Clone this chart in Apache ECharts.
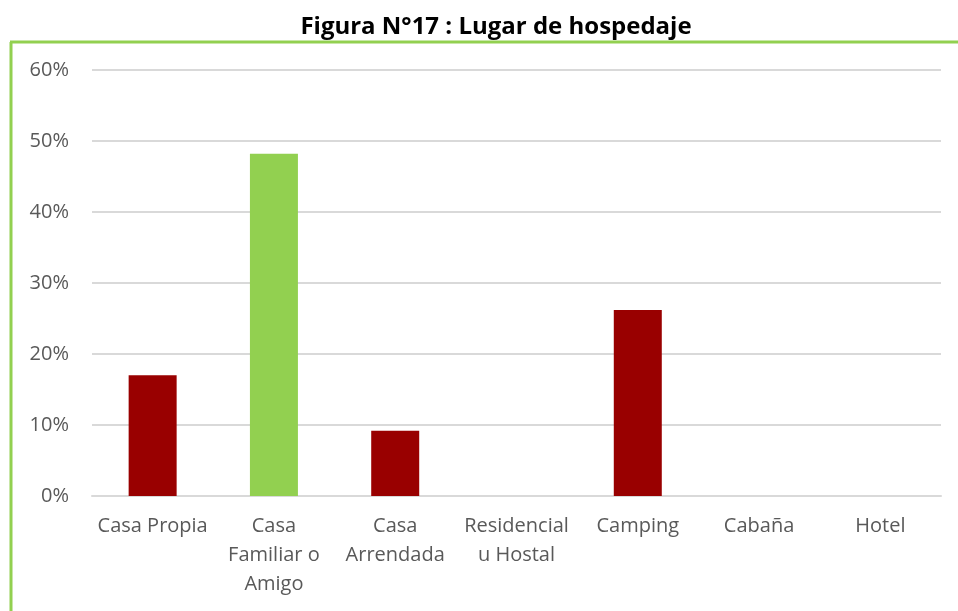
<!DOCTYPE html>
<html>
<head>
<meta charset="utf-8">
<script src="https://cdn.jsdelivr.net/npm/echarts@6/dist/echarts.min.js"></script>
<style>
  html, body { margin: 0; padding: 0; background: #fff; }
  #chart { width: 958px; height: 611px; }
</style>
</head>
<body>
<div id="chart"></div>
<script>
// datos
var categorias = ['Casa Propia', 'Casa\nFamiliar o\nAmigo', 'Casa\nArrendada', 'Residencial\nu Hostal', 'Camping', 'Cabaña', 'Hotel'];
var porcentajes = [17.0, 48.2, 9.2, 0, 26.2, 0, 0];
var colores = ['#990000', '#92d050', '#990000', '#990000', '#990000', '#990000', '#990000'];
var tituloTexto = 'Figura N°17 : Lugar de hospedaje';

var chart = echarts.init(document.getElementById('chart'), null, { renderer: 'canvas' });

var fuente = '"Open Sans", "Noto Sans", sans-serif';

var option = {
  backgroundColor: '#fff',
  animation: false,
  title: {
    text: tituloTexto,
    left: 491,
    textAlign: 'center',
    top: 10,
    textStyle: {
      fontFamily: fuente,
      fontWeight: 'bold',
      fontSize: 24,
      color: '#000'
    }
  },
  graphic: [
    {
      type: 'line',
      shape: { x1: 10, y1: 42, x2: 958, y2: 42 },
      style: { stroke: '#92d050', lineWidth: 3 }
    },
    {
      type: 'line',
      shape: { x1: 11, y1: 42, x2: 11, y2: 611 },
      style: { stroke: '#92d050', lineWidth: 3 }
    }
  ],
  grid: {
    left: 92,
    right: 17,
    top: 70,
    bottom: 115
  },
  xAxis: {
    type: 'category',
    data: categorias,
    axisLine: { lineStyle: { color: '#d9d9d9', width: 2 } },
    axisTick: { show: false },
    axisLabel: {
      interval: 0,
      margin: 16,
      color: '#595959',
      fontFamily: fuente,
      fontSize: 20,
      lineHeight: 29
    }
  },
  yAxis: {
    type: 'value',
    min: 0,
    max: 60,
    interval: 10,
    axisLine: { show: false },
    axisTick: { show: false },
    splitLine: { lineStyle: { color: '#d9d9d9', width: 2 } },
    axisLabel: {
      formatter: '{value}%',
      margin: 23,
      color: '#595959',
      fontFamily: fuente,
      fontSize: 20
    }
  },
  series: [
    {
      type: 'bar',
      barWidth: 48,
      data: porcentajes.map(function (v, i) {
        return { value: v, itemStyle: { color: colores[i] } };
      })
    }
  ]
};

chart.setOption(option);
</script>
</body>
</html>
